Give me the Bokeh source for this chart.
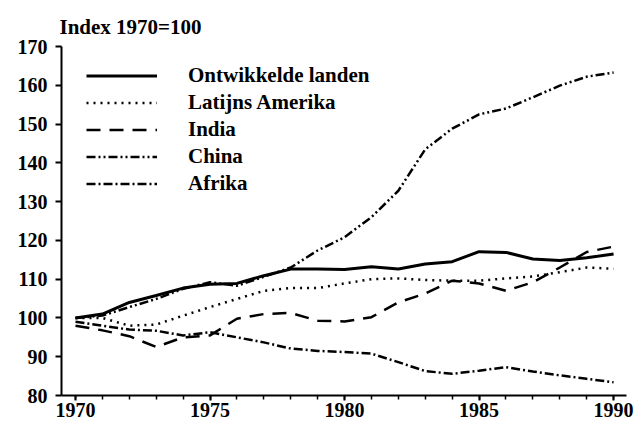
from bokeh.plotting import figure
from bokeh.models import Legend, LegendItem, FixedTicker, Range1d
from bokeh.embed import file_html
from bokeh.resources import INLINE

years = list(range(1970, 1991))
ontwikkelde = [100, 101, 104, 105.8, 107.7, 108.7, 108.9, 110.9, 112.6, 112.6, 112.5,
               113.2, 112.6, 113.9, 114.5, 117.1, 116.9, 115.2, 114.8, 115.5, 116.5]
latijns = [100, 100, 98, 98.3, 100.6, 102.8, 104.9, 107, 107.7, 107.7, 108.9,
           110, 110.2, 109.8, 109.6, 109.6, 110.2, 110.7, 111.8, 113, 112.7]
india = [98, 96.8, 95.3, 92.5, 95, 95.5, 99.8, 101, 101.3, 99.3, 99.1,
         100.2, 104, 106.3, 109.6, 108.9, 107, 109.2, 113, 117, 118.4]
china = [100, 100.6, 102.8, 104.9, 107.5, 109.2, 108.3, 110.6, 113, 117.4, 120.8,
         126, 132.8, 143.5, 148.8, 152.5, 154, 156.9, 159.9, 162.2, 163.3]
afrika = [99, 98, 97, 96.7, 95.5, 96.3, 95, 93.7, 92.1, 91.5, 91.2,
          90.8, 88.6, 86.3, 85.6, 86.4, 87.3, 86.2, 85.2, 84.3, 83.4]

labels = ["Ontwikkelde landen", "Latijns Amerika", "India", "China", "Afrika"]
x_major = [1970, 1975, 1980, 1985, 1990]
y_major = list(range(80, 171, 10))

FONT = "Liberation Serif"

p = figure(width=635, height=423, output_backend="svg", toolbar_location=None,
           x_range=Range1d(1969.48, 1990.48), y_range=Range1d(80, 170),
           min_border_left=61, min_border_right=9, min_border_top=46, min_border_bottom=28)
p.outline_line_color = None
p.xgrid.grid_line_color = None
p.ygrid.grid_line_color = None
p.background_fill_color = "white"

p.xaxis.ticker = FixedTicker(ticks=x_major, minor_ticks=years)
p.yaxis.ticker = FixedTicker(ticks=y_major, minor_ticks=[])
for ax in (p.xaxis[0], p.yaxis[0]):
    ax.axis_line_width = 2
    ax.axis_line_color = "black"
    ax.major_tick_line_width = 2
    ax.minor_tick_line_width = 1.5
    ax.major_tick_line_color = "black"
    ax.minor_tick_line_color = "black"
    ax.major_tick_in = 0
    ax.minor_tick_in = 0
    ax.major_label_text_font = FONT
    ax.major_label_text_font_style = "bold"
    ax.major_label_text_font_size = "20px"
    ax.major_label_text_color = "black"
p.xaxis.major_tick_out = 5
p.xaxis.minor_tick_out = 4
p.xaxis.major_label_standoff = 2
p.yaxis.major_tick_out = 6
p.yaxis.minor_tick_out = 0
p.yaxis.major_label_standoff = 8

p.title.text = "Index 1970=100"
p.title.align = "left"
p.title.text_font = FONT
p.title.text_font_style = "bold"
p.title.text_font_size = "21px"
p.title.text_color = "black"
p.title.offset = -2
p.title.standoff = 16

series = [ontwikkelde, latijns, india, china, afrika]
styles = [
    dict(line_width=3, line_dash="solid"),
    dict(line_width=2.5, line_dash="2 5"),
    dict(line_width=2.5, line_dash="14 9"),
    dict(line_width=2.5, line_dash="9 3 2 3 2 3"),
    dict(line_width=2.5, line_dash="9 3 2 3"),
]
items = []
for lab, ys, st in zip(labels, series, styles):
    r = p.line(years, ys, line_color="black", **st)
    items.append(LegendItem(label=lab, renderers=[r]))

legend = Legend(items=items, location=(25, 198), glyph_width=71, glyph_height=27,
                label_height=27, spacing=0, padding=0, margin=0, label_standoff=31,
                label_text_font=FONT, label_text_font_style="bold",
                label_text_font_size="21px", label_text_color="black",
                border_line_color=None, background_fill_alpha=0)
p.add_layout(legend, "center")

open("out.html", "w").write(file_html(p, INLINE))
